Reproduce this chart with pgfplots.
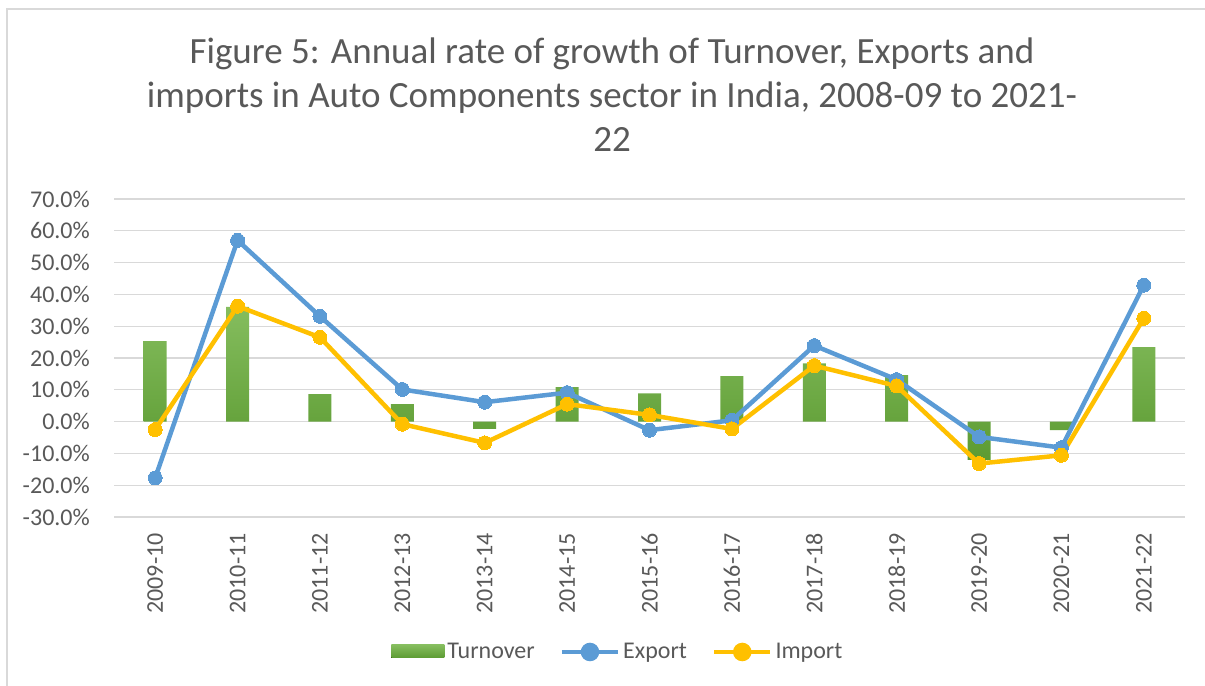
\documentclass[border=0pt]{standalone}
\usepackage{pgfplots}
\pgfplotsset{compat=1.18}
\usepackage{fontspec}
\setmainfont{Carlito}
\definecolor{txt}{HTML}{595959}
\definecolor{gridc}{HTML}{D9D9D9}
\definecolor{expc}{HTML}{5B9BD5}
\definecolor{impc}{HTML}{FFC000}
\definecolor{bartop}{HTML}{85BD5E}
\definecolor{barbot}{HTML}{5C9B32}
\pgfplotsset{
  explegend/.style={legend image code/.code={\draw[expc, line width=4.5bp] (0bp,0bp) -- (56bp,0bp); \fill[expc] (28bp,0bp) circle (7bp);}},
  implegend/.style={legend image code/.code={\draw[impc, line width=4.5bp] (0bp,0bp) -- (56bp,0bp); \fill[impc] (28bp,0bp) circle (7bp);}},
  barlegend/.style={legend image code/.code={\fill[top color=bartop, bottom color=barbot] (0bp,-6bp) rectangle (53bp,7bp);}},
}
\begin{document}
\begin{tikzpicture}[x=1bp,y=1bp]
\useasboundingbox (0,0) rectangle (1205,686);
\draw[gridc, line width=1.2bp] (7,0) -- (7,677) -- (1205,677);
\node[anchor=base, text=txt, font=\fontsize{37bp}{44bp}\selectfont, inner sep=0] at (612,622) {Figure 5: Annual rate of growth of Turnover, Exports and};
\node[anchor=base, text=txt, font=\fontsize{37bp}{44bp}\selectfont, inner sep=0] at (612,578) {imports in Auto Components sector in India, 2008-09 to 2021-};
\node[anchor=base, text=txt, font=\fontsize{37bp}{44bp}\selectfont, inner sep=0] at (612,534) {22};
\begin{axis}[
  at={(114bp,169bp)}, anchor=south west,
  scale only axis, width=1071bp, height=318bp,
  xmin=-0.5, xmax=12.5, ymin=-30, ymax=70,
  axis line style={draw=none},
  major tick length=0pt, tick style={draw=none},
  xtick={0,...,12},
  xticklabels={2009-10,2010-11,2011-12,2012-13,2013-14,2014-15,2015-16,2016-17,2017-18,2018-19,2019-20,2020-21,2021-22},
  ytick={-30,-20,...,70},
  yticklabel={\pgfmathprintnumber[fixed,fixed zerofill,precision=1]{\tick}\%},
  /pgf/number format/assume math mode=true,
  tick label style={text=txt, font=\fontsize{24bp}{28bp}\selectfont},
  yticklabel style={anchor=east, inner sep=0pt, xshift=-24bp},
  xticklabel style={yshift=-16bp, rotate=90, anchor=east, inner sep=0pt},
  ymajorgrids, xmajorgrids=false, grid style={draw=gridc, line width=1.3bp},
  legend columns=3,
  legend style={at={(0.471,-0.4245)}, anchor=center, draw=none, fill=none,
    font=\fontsize{24bp}{28bp}\selectfont, text=txt,
    /tikz/every even column/.append style={column sep=22bp},
    nodes={inner xsep=3bp}},
  legend cell align=left,
]
\addplot[ybar, bar width=23bp, draw=none, top color=bartop, bottom color=barbot, barlegend]
  coordinates {(0,25.3) (1,36.1) (2,8.6) (3,5.5) (4,-2.3) (5,10.8) (6,8.9) (7,14.3) (8,18.3) (9,14.6) (10,-12.0) (11,-2.7) (12,23.4)};
\addlegendentry{Turnover}
\addplot[expc, line width=4.5bp, mark=*, mark size=7bp, mark options={fill=expc, draw=expc, line width=0pt}, explegend]
  coordinates {(0,-17.7) (1,57.0) (2,33.1) (3,10.1) (4,6.1) (5,9.1) (6,-2.7) (7,0.4) (8,23.9) (9,13.2) (10,-4.8) (11,-8.2) (12,42.9)};
\addlegendentry{Export}
\addplot[impc, line width=4.5bp, mark=*, mark size=7bp, mark options={fill=impc, draw=impc, line width=0pt}, implegend]
  coordinates {(0,-2.5) (1,36.3) (2,26.5) (3,-0.8) (4,-6.7) (5,5.5) (6,2.1) (7,-2.3) (8,17.6) (9,11.2) (10,-13.2) (11,-10.6) (12,32.5)};
\addlegendentry{Import}
\end{axis}
\end{tikzpicture}
\end{document}
